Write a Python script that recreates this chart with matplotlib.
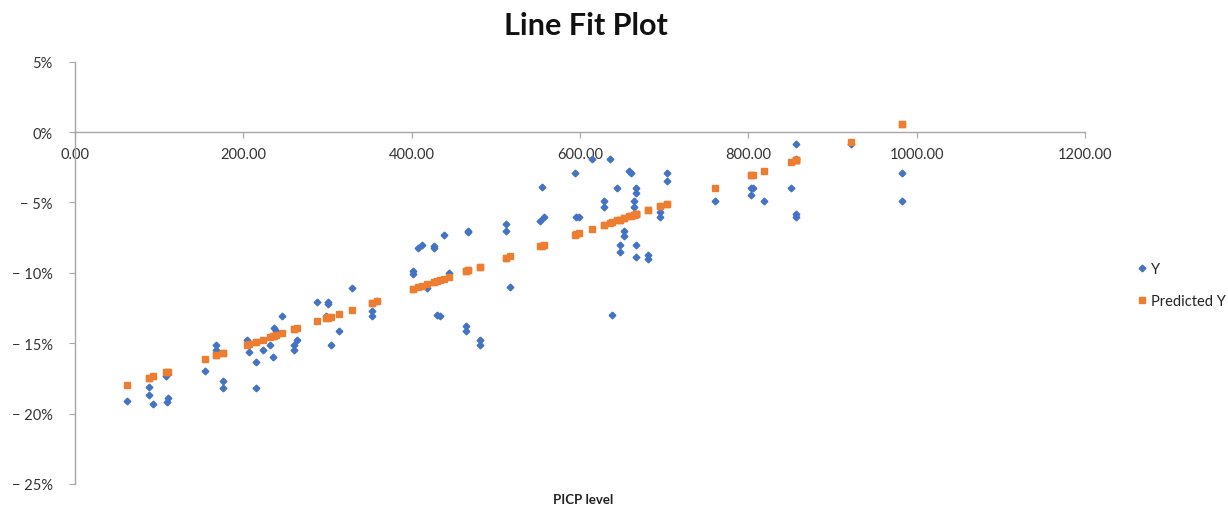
import matplotlib
matplotlib.use("Agg")
import matplotlib.pyplot as plt
from matplotlib.ticker import FuncFormatter, MultipleLocator

plt.rcParams['font.family'] = ['Lato', 'DejaVu Sans']

# PICP level (x) values
picp = [62, 88, 88, 93, 108, 109, 110, 154, 168, 168, 176, 176, 204, 207, 215, 215,
        223, 232, 235, 237, 239, 246, 260, 260, 264, 287, 298, 300, 301, 304, 314, 329,
        353, 353, 359, 401, 402, 407, 412, 418, 427, 427, 430, 434, 438, 444, 464, 464,
        467, 467, 481, 481, 512, 512, 517, 552, 555, 557, 594, 595, 599, 614, 628, 628,
        636, 638, 644, 647, 647, 652, 652, 658, 660, 664, 664, 667, 667, 667, 667, 681,
        681, 695, 695, 703, 703, 760, 803, 803, 806, 819, 851, 857, 857, 857, 857, 922,
        983, 983]

# Observed Y (percent)
y_obs = [-19.1, -18.1, -18.7, -19.3, -17.3, -19.2, -18.9, -17.0, -15.1, -15.5, -17.7, -18.2,
         -14.8, -15.6, -16.3, -18.2, -15.5, -15.1, -16.0, -13.9, -14.1, -13.05, -15.1, -15.5,
         -14.8, -12.1, -13.05, -12.1, -12.2, -15.1, -14.1, -11.1, -12.7, -13.1, -12.0, -9.9,
         -10.1, -8.2, -8.0, -11.1, -8.1, -8.2, -13.0, -13.1, -7.3, -10.0, -13.8, -14.1,
         -7.0, -7.1, -14.8, -15.1, -6.5, -7.0, -11.0, -6.3, -3.9, -6.0, -2.9, -6.0,
         -6.0, -1.9, -4.9, -5.3, -1.9, -13.0, -4.0, -8.0, -8.5, -7.0, -7.4, -2.8,
         -2.9, -4.9, -5.3, -4.0, -4.3, -8.0, -8.9, -8.7, -9.0, -5.7, -6.0, -2.9,
         -3.5, -4.9, -4.0, -4.5, -4.0, -4.9, -4.0, -0.85, -1.9, -5.8, -6.0, -0.85,
         -2.9, -4.9]

# Predicted Y (percent)
y_pred = [-17.97, -17.45, -17.45, -17.35, -17.05, -17.03, -17.01, -16.12, -15.84, -15.84,
          -15.68, -15.68, -15.12, -15.06, -14.90, -14.90, -14.74, -14.56, -14.50, -14.46,
          -14.42, -14.28, -13.99, -13.99, -13.91, -13.45, -13.23, -13.19, -13.17, -13.11,
          -12.91, -12.61, -12.12, -12.12, -12.00, -11.16, -11.14, -11.04, -10.94, -10.82,
          -10.64, -10.64, -10.58, -10.50, -10.42, -10.30, -9.89, -9.89, -9.83, -9.83,
          -9.55, -9.55, -8.93, -8.93, -8.83, -8.12, -8.06, -8.02, -7.28, -7.26,
          -7.18, -6.88, -6.60, -6.60, -6.44, -6.40, -6.28, -6.22, -6.22, -6.11,
          -6.11, -5.99, -5.95, -5.87, -5.87, -5.81, -5.81, -5.81, -5.81, -5.53,
          -5.53, -5.25, -5.25, -5.09, -5.09, -3.94, -3.08, -3.08, -3.02, -2.76,
          -2.11, -1.99, -1.99, -1.99, -1.99, -0.69, 0.54, 0.54]

title = "Line Fit Plot"
x_label = "PICP level"
series_names = ["Y", "Predicted Y"]

W, H = 1228, 506
fig = plt.figure(figsize=(W / 100, H / 100), dpi=100)
ax = fig.add_axes([75 / W, 1 - 485 / H, (1085 - 75) / W, (485 - 62.7) / H])

blue = '#4472C4'
orange = '#ED7D31'
grey = '#A6A6A6'

ax.plot(picp, y_obs, linestyle='none', marker='D', markersize=3.4,
        color=blue, label=series_names[0], zorder=3)
ax.plot(picp, y_pred, linestyle='none', marker='s', markersize=4.6,
        color=orange, label=series_names[1], zorder=3)

ax.set_xlim(0, 1200)
ax.set_ylim(-25, 5)
ax.xaxis.set_major_locator(MultipleLocator(200))
ax.yaxis.set_major_locator(MultipleLocator(5))
ax.xaxis.set_major_formatter(FuncFormatter(lambda v, p: f"{v:.2f}"))


def pct(v, p):
    v = int(round(v))
    if v < 0:
        return f"\u2212 {abs(v)}%"
    return f"{v}%"


ax.yaxis.set_major_formatter(FuncFormatter(pct))

for s in ['top', 'right']:
    ax.spines[s].set_visible(False)
ax.spines['bottom'].set_position(('data', 0))
ax.spines['bottom'].set_color(grey)
ax.spines['left'].set_color(grey)
ax.spines['bottom'].set_linewidth(1.0)
ax.spines['left'].set_linewidth(1.0)
ax.tick_params(axis='both', colors=grey, labelcolor='#333333', labelsize=10.5, length=4, width=0.8)
ax.tick_params(axis='x', pad=7)
ax.tick_params(axis='y', pad=12)

fig.text(586 / W, 1 - 26 / H, title, ha='center', va='center', fontsize=22, fontweight='bold',
         color='#111111')
fig.text(583 / W, 1 - 500 / H, x_label, ha='center', va='center', fontsize=9.5,
         fontweight='bold', color='#222222')

leg = fig.legend(loc='center left', bbox_to_anchor=(1122 / W, 1 - 286 / H), frameon=False,
                 fontsize=10.5, handletextpad=0.1, labelspacing=1.2, handlelength=1.0)
for t in leg.get_texts():
    t.set_color('#222222')

fig.savefig("out.png", dpi=100)
